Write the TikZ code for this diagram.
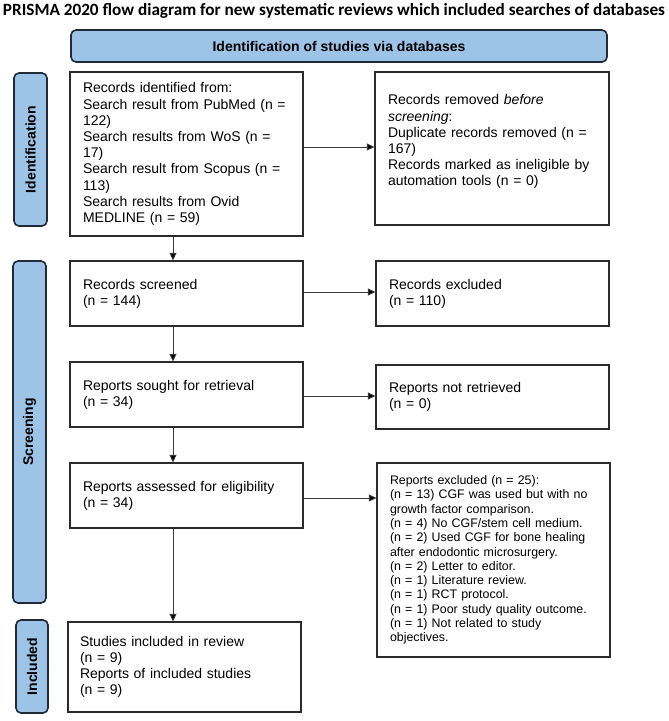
\documentclass[tikz,border=0pt]{standalone}
\usepackage{fontspec}
\setmainfont{Liberation Sans}
\newfontfamily\titlefont{Carlito}
\usetikzlibrary{arrows.meta}
\definecolor{labfill}{HTML}{9DC3E6}
\definecolor{labdraw}{HTML}{1F2A3A}
\definecolor{boxdraw}{HTML}{2B2B2B}
\definecolor{arrcol}{HTML}{3A3A3A}
\begin{document}
\begin{tikzpicture}[x=1pt,y=-1pt,
  stagebox/.style={draw=labdraw, fill=labfill, line width=1.6pt, rounded corners=5pt,
    font=\fontsize{14}{16}\selectfont\bfseries, inner sep=0pt},
  flowbox/.style={draw=boxdraw, line width=1.2pt, align=left, inner ysep=0pt,
    inner xsep=13pt, text width=207pt, font=\fontsize{14}{16.2}\selectfont},
  arr/.style={draw=arrcol, line width=0.9pt, -{Triangle[length=7.5pt,width=7pt,fill=black]}}]
\useasboundingbox (0,0) rectangle (669,721);
% title
\node[anchor=base, inner sep=0pt] (title) at (334,15.5)
  {\resizebox{662pt}{!}{\titlefont\bfseries PRISMA 2020 flow diagram for new systematic reviews which included searches of databases}};
% header
\node[stagebox, minimum width=536pt, minimum height=32pt] (head) at (339,46)
  {Identification of studies via databases};
% stage labels
\node[stagebox, rotate=90, minimum width=153pt, minimum height=33pt] (lid) at (30.5,149.5) {Identification};
\node[stagebox, rotate=90, minimum width=342pt, minimum height=33pt] (lscr) at (29.5,432) {Screening};
\node[stagebox, rotate=90, minimum width=93pt, minimum height=32pt] (linc) at (32,666.5) {Included};
% left column
\node[flowbox, minimum height=164pt] (id) at (186.5,154)
  {Records identified from:\\ Search result from PubMed (n =\\ 122)\\ Search results from WoS (n =\\ 17)\\ Search result from Scopus (n =\\ 113)\\ Search results from Ovid\\ MEDLINE (n = 59)};
\node[flowbox, minimum height=65pt] (scr) at (186.5,293.5)
  {Records screened\\ (n = 144)};
\node[flowbox, minimum height=65pt] (sought) at (186.5,394.5)
  {Reports sought for retrieval\\ (n = 34)};
\node[flowbox, minimum height=65pt] (assess) at (186.5,495.5)
  {Reports assessed for eligibility\\ (n = 34)};
\node[flowbox, minimum height=90pt, inner xsep=12pt, text width=209pt] (incl) at (184.5,667)
  {Studies included in review\\ (n = 9)\\ Reports of included studies\\ (n = 9)};
% right column
\node[flowbox, minimum height=153pt, text width=208pt] (rem) at (492,148.5)
  {Records removed \textit{before}\\ \textit{screening}:\\ Duplicate records removed (n =\\ 167)\\ Records marked as ineligible by\\ automation tools (n = 0)\\ \mbox{}};
\node[flowbox, minimum height=65pt] (exc) at (492.5,293.5)
  {Records excluded\\ (n = 110)};
\node[flowbox, minimum height=64pt] (notret) at (492.5,397)
  {Reports not retrieved\\ (n = 0)};
\node[flowbox, minimum height=194pt, font=\fontsize{12.4}{14.3}\selectfont] (repexc) at (493.5,560)
  {Reports excluded (n = 25):\\ (n = 13) CGF was used but with no\\ growth factor comparison.\\ (n = 4) No CGF/stem cell medium.\\ (n = 2) Used CGF for bone healing\\ after endodontic microsurgery.\\ (n = 2) Letter to editor.\\ (n = 1) Literature review.\\ (n = 1) RCT protocol.\\ (n = 1) Poor study quality outcome.\\ (n = 1) Not related to study\\ objectives.};
% vertical arrows
\draw[arr] ([xshift=-13.5pt]id.south) -- ([xshift=-13.5pt]scr.north);
\draw[arr] ([xshift=-13.5pt]scr.south) -- ([xshift=-13.5pt]sought.north);
\draw[arr] ([xshift=-13.5pt]sought.south) -- ([xshift=-13.5pt]assess.north);
\draw[arr] ([xshift=-13.5pt]assess.south) -- ([xshift=-11.5pt]incl.north);
% horizontal arrows
\coordinate (h1) at ([yshift=7pt]id.east);
\coordinate (h2) at ([yshift=1.5pt]scr.east);
\coordinate (h3) at ([yshift=-1.5pt]sought.east);
\coordinate (h4) at ([yshift=-2.5pt]assess.east);
\draw[arr] (h1) -- (h1 -| rem.west);
\draw[arr] (h2) -- (h2 -| exc.west);
\draw[arr] (h3) -- (h3 -| notret.west);
\draw[arr] (h4) -- (h4 -| repexc.west);
\end{tikzpicture}
\end{document}
